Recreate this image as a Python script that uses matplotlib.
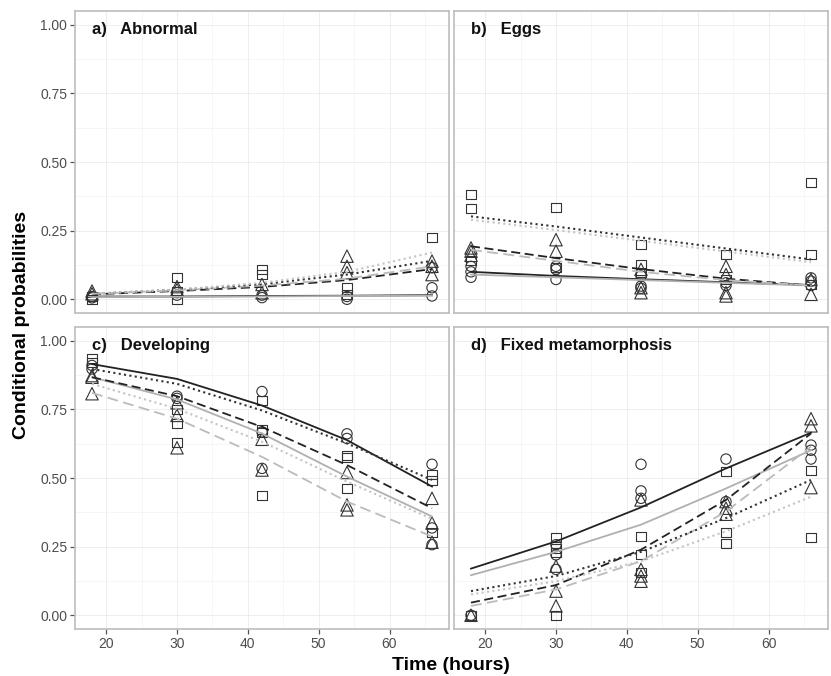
import matplotlib
matplotlib.use("Agg")
import matplotlib.pyplot as plt
from matplotlib.ticker import MultipleLocator
import numpy as np

plt.rcParams['font.family'] = ['Liberation Sans', 'DejaVu Sans']

times = [18, 30, 42, 54, 66]
panel_titles = ["a)   Abnormal", "b)   Eggs", "c)   Developing", "d)   Fixed metamorphosis"]
y_ticks = [0.00, 0.25, 0.50, 0.75, 1.00]
y_tick_labels = ["0.00", "0.25", "0.50", "0.75", "1.00"]
x_ticks = [20, 30, 40, 50, 60]

# ---- observed points (x, y) by shape ----
a_circ_x = [18, 18, 30, 30, 42, 42, 54, 54, 66, 66, 66]
a_circ_y = [0.010, 0.005, 0.024, 0.015, 0.006, 0.015, 0.000, 0.010, 0.115, 0.042, 0.012]
a_sq_x = [18, 18, 30, 30, 30, 42, 42, 54, 54, 66]
a_sq_y = [0.000, 0.010, 0.078, 0.000, 0.030, 0.110, 0.090, 0.042, 0.018, 0.226]
a_tri_x = [18, 18, 30, 30, 42, 42, 54, 54, 54, 66, 66, 66]
a_tri_y = [0.030, 0.020, 0.046, 0.035, 0.054, 0.024, 0.157, 0.120, 0.097, 0.139, 0.120, 0.090]

b_circ_x = [18, 18, 18, 30, 30, 30, 42, 42, 42, 54, 54, 66, 66, 66]
b_circ_y = [0.120, 0.100, 0.080, 0.120, 0.109, 0.072, 0.085, 0.048, 0.040, 0.060, 0.050, 0.078, 0.066, 0.050]
b_sq_x = [18, 18, 18, 30, 30, 42, 42, 42, 54, 54, 66, 66, 66]
b_sq_y = [0.383, 0.332, 0.140, 0.336, 0.115, 0.200, 0.127, 0.097, 0.163, 0.072, 0.425, 0.163, 0.054]
b_tri_x = [18, 18, 18, 30, 30, 42, 42, 42, 54, 54, 54, 54, 66, 66]
b_tri_y = [0.187, 0.175, 0.160, 0.217, 0.175, 0.109, 0.042, 0.024, 0.120, 0.090, 0.024, 0.012, 0.072, 0.018]

c_circ_x = [18, 18, 30, 30, 42, 42, 42, 54, 54, 66, 66, 66]
c_circ_y = [0.910, 0.897, 0.798, 0.790, 0.815, 0.668, 0.535, 0.661, 0.644, 0.550, 0.318, 0.257]
c_sq_x = [18, 18, 30, 30, 30, 42, 42, 42, 42, 54, 54, 54, 66, 66, 66]
c_sq_y = [0.934, 0.920, 0.750, 0.700, 0.630, 0.783, 0.676, 0.665, 0.438, 0.581, 0.574, 0.463, 0.511, 0.490, 0.300]
c_tri_x = [18, 18, 18, 30, 30, 30, 42, 42, 54, 54, 54, 66, 66, 66]
c_tri_y = [0.873, 0.867, 0.807, 0.774, 0.728, 0.610, 0.641, 0.529, 0.520, 0.402, 0.384, 0.426, 0.336, 0.266]

d_circ_x = [18, 30, 30, 30, 42, 42, 42, 54, 54, 66, 66, 66]
d_circ_y = [0.000, 0.257, 0.220, 0.167, 0.550, 0.453, 0.426, 0.569, 0.414, 0.620, 0.601, 0.569]
d_sq_x = [18, 30, 30, 30, 30, 42, 42, 42, 54, 54, 54, 66, 66]
d_sq_y = [0.000, 0.284, 0.245, 0.230, 0.000, 0.287, 0.223, 0.155, 0.525, 0.300, 0.263, 0.529, 0.284]
d_tri_x = [18, 30, 30, 30, 42, 42, 42, 42, 54, 54, 54, 66, 66, 66]
d_tri_y = [0.000, 0.179, 0.088, 0.034, 0.420, 0.167, 0.143, 0.124, 0.414, 0.390, 0.368, 0.716, 0.690, 0.465]

# ---- fitted curves at the five times ----
a_solid_black = [0.010, 0.010, 0.012, 0.013, 0.015]
a_solid_gray = [0.008, 0.009, 0.010, 0.012, 0.013]
a_dash_black = [0.018, 0.030, 0.045, 0.070, 0.110]
a_dash_gray = [0.020, 0.032, 0.050, 0.075, 0.120]
a_dot_black = [0.020, 0.035, 0.055, 0.090, 0.140]
a_dot_gray = [0.020, 0.035, 0.060, 0.100, 0.170]

b_solid_black = [0.100, 0.085, 0.073, 0.062, 0.052]
b_solid_gray = [0.090, 0.080, 0.070, 0.060, 0.050]
b_dash_black = [0.193, 0.150, 0.110, 0.075, 0.050]
b_dash_gray = [0.180, 0.140, 0.100, 0.070, 0.050]
b_dot_black = [0.302, 0.265, 0.225, 0.185, 0.145]
b_dot_gray = [0.290, 0.252, 0.213, 0.174, 0.135]

c_solid_black = [0.915, 0.861, 0.764, 0.638, 0.469]
c_solid_gray = [0.867, 0.786, 0.662, 0.505, 0.360]
c_dash_black = [0.867, 0.798, 0.686, 0.547, 0.390]
c_dash_gray = [0.810, 0.716, 0.577, 0.414, 0.287]
c_dot_black = [0.897, 0.843, 0.746, 0.626, 0.493]
c_dot_gray = [0.843, 0.752, 0.632, 0.487, 0.351]

d_solid_black = [0.170, 0.269, 0.393, 0.535, 0.665]
d_solid_gray = [0.146, 0.231, 0.330, 0.462, 0.601]
d_dash_black = [0.046, 0.110, 0.239, 0.420, 0.662]
d_dash_gray = [0.034, 0.094, 0.197, 0.378, 0.614]
d_dot_black = [0.088, 0.143, 0.231, 0.354, 0.493]
d_dot_gray = [0.076, 0.124, 0.197, 0.306, 0.432]

panels = [
    ((a_circ_x, a_circ_y), (a_sq_x, a_sq_y), (a_tri_x, a_tri_y),
     [a_solid_black, a_solid_gray, a_dash_black, a_dash_gray, a_dot_black, a_dot_gray]),
    ((b_circ_x, b_circ_y), (b_sq_x, b_sq_y), (b_tri_x, b_tri_y),
     [b_solid_black, b_solid_gray, b_dash_black, b_dash_gray, b_dot_black, b_dot_gray]),
    ((c_circ_x, c_circ_y), (c_sq_x, c_sq_y), (c_tri_x, c_tri_y),
     [c_solid_black, c_solid_gray, c_dash_black, c_dash_gray, c_dot_black, c_dot_gray]),
    ((d_circ_x, d_circ_y), (d_sq_x, d_sq_y), (d_tri_x, d_tri_y),
     [d_solid_black, d_solid_gray, d_dash_black, d_dash_gray, d_dot_black, d_dot_gray]),
]

line_styles = [
    dict(color="#222222", ls="-", lw=1.3),
    dict(color="#B0B0B0", ls="-", lw=1.3),
    dict(color="#222222", ls=(0, (5, 2.5)), lw=1.3),
    dict(color="#BBBBBB", ls=(0, (6, 3)), lw=1.3),
    dict(color="#333333", ls=(0, (1, 1.6)), lw=1.5),
    dict(color="#C4C4C4", ls=(0, (1, 1.6)), lw=1.5),
]

W, H = 831, 676
fig = plt.figure(figsize=(W / 100, H / 100), dpi=100)
boxes = [(75, 11, 449, 313), (454, 11, 828, 313), (75, 327, 449, 629), (454, 327, 828, 629)]

mk_edge = "#333333"
for i, (box, pdata) in enumerate(zip(boxes, panels)):
    l, t, r, b = box
    ax = fig.add_axes([l / W, 1 - b / H, (r - l) / W, (b - t) / H])
    ax.set_xlim(15.6, 68.4)
    ax.set_ylim(-0.05, 1.05)
    ax.xaxis.set_major_locator(MultipleLocator(10))
    ax.xaxis.set_minor_locator(MultipleLocator(5))
    ax.set_yticks(y_ticks)
    ax.yaxis.set_minor_locator(MultipleLocator(0.125))
    ax.grid(which="major", color="#EBEBEB", lw=0.6)
    ax.grid(which="minor", color="#F3F3F3", lw=0.5)
    ax.set_axisbelow(True)
    for s in ax.spines.values():
        s.set_color("#BDBDBD")
        s.set_linewidth(1.2)
    ax.tick_params(which="minor", length=0)
    ax.tick_params(which="major", length=3.5, width=0.9, color="#555555",
                   labelsize=10, labelcolor="#4D4D4D", pad=2)
    circ, sq, tri, curves = pdata
    ax.scatter(circ[0], circ[1], s=55, marker="o", facecolors="none",
               edgecolors=mk_edge, linewidths=0.8, zorder=3)
    ax.scatter(sq[0], sq[1], s=42, marker="s", facecolors="none",
               edgecolors=mk_edge, linewidths=0.8, zorder=3)
    ax.scatter(tri[0], tri[1], s=80, marker="^", facecolors="none",
               edgecolors=mk_edge, linewidths=0.8, zorder=3)
    for vals, st in zip(curves, line_styles):
        ax.plot(times, vals, zorder=4, **st)
    ax.text(0.045, 0.965, panel_titles[i], transform=ax.transAxes, ha="left", va="top",
            fontsize=12, fontweight="bold", color="#111111")
    if i in (0, 2):
        ax.set_yticklabels(y_tick_labels)
    else:
        ax.tick_params(axis="y", which="both", left=False, labelleft=False)
    if i in (2, 3):
        ax.set_xticks(x_ticks)
        ax.set_xticklabels([str(v) for v in x_ticks])
    else:
        ax.tick_params(axis="x", which="both", bottom=False, labelbottom=False)

fig.text(451 / W, 1 - 665 / H, "Time (hours)", ha="center", va="center",
         fontsize=14, fontweight="bold")
fig.text(22 / W, 1 - 325 / H, "Conditional probabilities", ha="center", va="center",
         rotation=90, fontsize=14, fontweight="bold")

fig.savefig("out.png", dpi=100)
